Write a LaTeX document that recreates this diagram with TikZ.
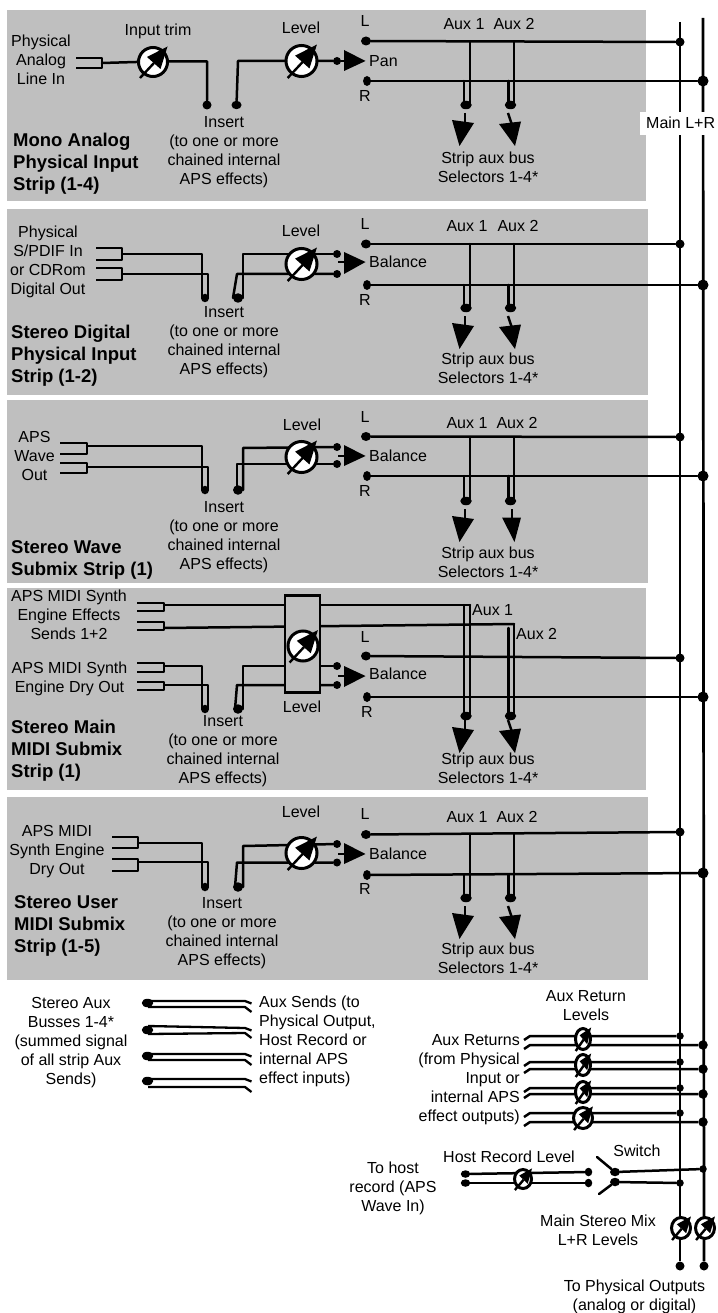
\documentclass[tikz,border=0pt]{standalone}
\usepackage{fontspec}
\setmainfont{Liberation Sans}
\usetikzlibrary{shapes.geometric}
\definecolor{panel}{HTML}{BFBFBF}
\tikzset{
  wire/.style={line width=2.5pt,line cap=round,line join=round,black},
  busline/.style={line width=2.7pt,black},
  sdot/.style={ellipse,fill=black,inner sep=0pt,minimum width=9pt,minimum height=9pt},
  widedot/.style={ellipse,fill=black,inner sep=0pt,minimum width=11.5pt,minimum height=8.5pt},
  ldot/.style={circle,fill=black,inner sep=0pt,minimum size=9pt},
  rdot/.style={circle,fill=black,inner sep=0pt,minimum size=11pt},
  knobshape/.style={ellipse,draw=black,fill=white,line width=3pt,inner sep=0pt},
  lab/.style={inner sep=0pt,font=\fontsize{16}{19}\selectfont},
  blab/.style={inner sep=0pt,align=left,anchor=north west,font=\fontsize{18.5}{21.7}\selectfont\bfseries},
  panelbox/.style={fill=panel,draw=none,inner sep=0pt,anchor=north west},
}
\newcount\tn
\newcommand\tb[5]{\global\advance\tn by 1 \node[lab,anchor=#1,align=#4] (t\the\tn) at (#2,#3-7.8) {\strut #5};}
\newcommand\tbb[3]{\global\advance\tn by 1 \node[blab] (t\the\tn) at (#1,#2-8.7) {\strut #3};}
% panel: name x1 y1 x2 y2
\newcommand\panelrect[5]{\node[panelbox,minimum width=#4-#2,minimum height=#5-#3] (#1) at (#2,#3) {};}
% knob: name x y rx ry
\newcommand\knob[5]{%
  \node[knobshape,minimum width=2*#4-3,minimum height=2*#5-3] (#1) at (#2,#3) {};
  \begin{scope}[shift={(#2,#3)},xscale=#4/16,yscale=#5/16]
    \coordinate (#1-tail) at (-13,16); \coordinate (#1-mid) at (1,1);
    \draw[line width=2.4pt,black] (#1-tail) -- (#1-mid);
    \fill[black] (14.5,-15.5) -- (-6,-5) -- (7.5,7) -- cycle;
  \end{scope}}
% jack: name x1 x2 y1 y2 ymid
\newcommand\jack[6]{%
  \coordinate (#1-a) at (#2,#4); \coordinate (#1-b) at (#3,#4);
  \coordinate (#1-c) at (#2,#5); \coordinate (#1-d) at (#3,#5);
  \coordinate (#1-m) at (#3,#6);
  \draw[wire,line cap=butt] (#1-a) -- (#1-b) -- (#1-d) -- (#1-c);}
% outputs: p Ly LyEnd Ry RyEnd
\newcommand\outs[5]{%
  \node[sdot,minimum width=10pt] (#1-L) at (366,#2) {};
  \node[sdot,minimum width=8pt,minimum height=10pt] (#1-R) at (367,#4) {};
  \node[ldot] (#1-LB) at (680,#3) {};
  \node[rdot] (#1-RB) at (703,#5) {};
  \draw[wire] (#1-L) -- (#1-LB);
  \draw[wire] (#1-R) -- (#1-RB);}
% aux verticals: p D a1 b1 a2 b2
\newcommand\auxs[6]{%
  \node[widedot] (#1-d1) at (466,#2) {};
  \node[widedot] (#1-d2) at (510.5,#2) {};
  \coordinate (#1-a1) at (470,#3); \coordinate (#1-a1e) at (470,#2);
  \coordinate (#1-b1) at (464,#4); \coordinate (#1-b1e) at (464,#2);
  \coordinate (#1-a2) at (514,#5); \coordinate (#1-a2e) at (514,#2);
  \coordinate (#1-b2) at (508.5,#6); \coordinate (#1-b2e) at (508.5,#2);
  \draw[wire] (#1-a1) -- (#1-a1e); \draw[wire] (#1-b1) -- (#1-b1e);
  \draw[wire] (#1-a2) -- (#1-a2e); \draw[wire] (#1-b2) -- (#1-b2e);}
\newcommand\arrowA[2]{%
  \coordinate (#1-s1) at (465,#2+8); \coordinate (#1-s1e) at (465,#2+20);
  \draw[wire,line cap=butt] (#1-s1) -- (#1-s1e);
  \fill[black] (452,#2+15) -- (474,#2+18) -- (459.5,#2+41) -- cycle;}
\newcommand\arrowB[2]{%
  \coordinate (#1-s2) at (508,#2+8); \coordinate (#1-s2e) at (512,#2+20);
  \draw[wire,line cap=butt] (#1-s2) -- (#1-s2e);
  \fill[black] (499,#2+19) -- (521,#2+16.5) -- (515,#2+41) -- cycle;}
\newcommand\arrowBs[2]{%
  \coordinate (#1-s2) at (512,#2+8); \coordinate (#1-s2e) at (512,#2+20);
  \draw[wire,line cap=butt] (#1-s2) -- (#1-s2e);
  \fill[black] (502,#2+16.5) -- (521,#2+16.5) -- (514.5,#2+41) -- cycle;}
% stereo insert loop: p LA LB RA RAl RB D sx  (sources p-j1-m,p-j2-m)
\newcommand\stereo[8]{%
  \node[sdot,minimum width=8pt,minimum height=8.5pt] (#1-iL) at (205,#7) {};
  \node[widedot,minimum width=10pt,minimum height=9.5pt] (#1-iR) at (238,#7) {};
  \coordinate (#1-la) at (202,#7); \coordinate (#1-lb) at (208,#7);
  \coordinate (#1-ra) at (243,#7); \coordinate (#1-rc) at (243,#5);
  \coordinate (#1-rb) at (237,#6); \coordinate (#1-rd) at (#8,#7);
  \node[sdot,minimum size=8pt] (#1-da) at (337,#4) {};
  \node[sdot,minimum size=8pt] (#1-db) at (337,#6) {};
  \draw[wire] (#1-j1-m) -| (#1-la);
  \draw[wire] (#1-j2-m) -| (#1-lb);
  \draw[wire] (#1-da) -- (#1-rc) -- (#1-ra);
  \draw[wire] (#1-db) -- (#1-rb) -- (#1-rd);}
% balance triangle: p ytop ybot ymid
\newcommand\tri[4]{%
  \coordinate (#1-t0) at (338,#4); \coordinate (#1-t1) at (345,#4);
  \draw[wire,line cap=butt] (#1-t0) -- (#1-t1);
  \fill[black] (344,#2) -- (344,#3) -- (365.5,#4) -- cycle;}
% aux bus row: n Y t1 t2 b1 b2
\newcommand\busrow[6]{%
  \node[widedot,minimum height=8.5pt] (r#1) at (147.5,#2) {};
  \coordinate (r#1-t0) at (148,#3); \coordinate (r#1-t1) at (245,#4); \coordinate (r#1-t2) at (251.5,#4+2.5);
  \coordinate (r#1-b0) at (148,#5); \coordinate (r#1-b1) at (245,#6); \coordinate (r#1-b2) at (251.5,#6+5);
  \draw[wire,line width=2.3pt,line cap=butt] (r#1-t0) -- (r#1-t1) -- (r#1-t2);
  \draw[wire,line width=2.3pt,line cap=butt] (r#1-b0) -- (r#1-b1) -- (r#1-b2);}
% return pair: n top bot knoby rx
\newcommand\retn[5]{%
  \coordinate (q#1-s) at (524,#2+4); \coordinate (q#1-a) at (530,#2);
  \coordinate (q#1-t) at (524,#3+4); \coordinate (q#1-b) at (530,#3);
  \node[ldot,minimum size=7.5pt] (q#1-L) at (680,#2) {};
  \node[rdot,minimum size=9.5pt] (q#1-R) at (703,#3) {};
  \draw[wire,line cap=butt] (q#1-s) -- (q#1-a) -- (q#1-L);
  \draw[wire,line cap=butt] (q#1-t) -- (q#1-b) -- (q#1-R);
  \knob{q#1-k}{583}{#4}{#5}{12}}
\begin{document}
\begin{tikzpicture}[x=1pt,y=-1pt]
\useasboundingbox (0,0) rectangle (717,1313);
\fill[white] (0,0) rectangle (717,1313);
% panels
\panelrect{P1}{7}{10}{646}{200.5}
\panelrect{P2}{7}{209}{648}{395}
\panelrect{P3}{7}{400}{648}{582.5}
\panelrect{P4}{7}{588}{646}{789.5}
\panelrect{P5}{7}{797}{648}{979.5}
% main buses
\coordinate (busLtop) at (680,22); \coordinate (busRtop) at (703,18);
\node[ldot] (busLend) at (680,1266) {};
\node[ldot] (busRend) at (704,1266) {};
\draw[busline] (busLtop) -- (busLend);
\draw[busline] (busRtop) -- (busRend);
\node[fill=white,inner sep=0pt,minimum width=77pt,minimum height=23pt,anchor=north west] (mainbox) at (640,112) {};
\tb{north west}{646}{123}{left}{Main L+R}

% ---------- Strip 1
\tb{north}{41}{41}{center}{Physical\\Analog\\Line In}
\tb{north}{158}{30}{center}{Input trim}
\tb{north}{301}{28}{center}{Level}
\tb{north}{365}{21}{center}{L}
\tb{north}{365}{96}{center}{R}
\tb{north west}{369}{61}{left}{Pan}
\tb{north}{224}{122}{center}{Insert\\(to one or more\\chained internal\\APS effects)}
\tbb{13}{140}{Mono Analog\\Physical Input\\Strip (1-4)}
\tb{north}{464}{24}{center}{Aux 1}
\tb{north}{514}{24}{center}{Aux 2}
\tb{north}{488}{158}{center}{Strip aux bus\\Selectors 1-4*}
\jack{a-j}{76}{102}{58}{68}{63}
\node[sdot] (a-iL) at (207,105) {};
\node[widedot,minimum width=10pt] (a-iR) at (236.5,105) {};
\node[sdot,minimum size=8pt] (a-dp) at (337,61) {};
\coordinate (a-c1) at (238,61);
\coordinate (a-t) at (345,61);
\draw[wire] (a-j-m) -- (153,61.5) -| (a-iL);
\draw[wire] (a-iR) -- (a-c1) -- (a-dp);
\draw[wire] (a-dp) -- (a-t);
\knob{a-k1}{153}{62}{16}{16}
\knob{a-k2}{301.5}{61}{17}{17}
\fill[black] (344,50) -- (344,71) -- (365.5,61) -- cycle;
\outs{a}{41}{42}{81}{81}
\auxs{a}{105}{42}{81}{42}{81}
\arrowA{a}{105}
\arrowB{a}{105}

% ---------- Strip 2
\tb{north}{48}{232}{center}{Physical\\S/PDIF In\\or CDRom\\Digital Out}
\tb{north}{301}{231}{center}{Level}
\tb{north}{365}{224}{center}{L}
\tb{north}{365}{300}{center}{R}
\tb{north west}{369}{262}{left}{Balance}
\tb{north}{224}{312}{center}{Insert\\(to one or more\\chained internal\\APS effects)}
\tbb{11}{332}{Stereo Digital\\Physical Input\\Strip (1-2)}
\tb{north}{467}{226}{center}{Aux 1}
\tb{north}{518}{226}{center}{Aux 2}
\tb{north}{488}{359}{center}{Strip aux bus\\Selectors 1-4*}
\jack{b-j1}{96}{122}{248}{260}{254}
\jack{b-j2}{96}{122}{268}{280}{274}
\stereo{b}{254}{274}{254}{254}{274}{298}{233}
\knob{b-k}{301.5}{264}{17}{17}
\tri{b}{252}{274}{262}
\outs{b}{244}{244}{285}{285}
\auxs{b}{308}{244}{285}{244}{285}
\arrowA{b}{308}
\arrowB{b}{308}

% ---------- Strip 3
\tb{north}{34.5}{437}{center}{APS\\Wave\\Out}
\tb{north}{302}{425}{center}{Level}
\tb{north}{365}{417}{center}{L}
\tb{north}{365}{491}{center}{R}
\tb{north west}{369}{456}{left}{Balance}
\tb{north}{224}{507}{center}{Insert\\(to one or more\\chained internal\\APS effects)}
\tbb{11}{547}{Stereo Wave\\Submix Strip (1)}
\tb{north}{467}{423}{center}{Aux 1}
\tb{north}{517}{423}{center}{Aux 2}
\tb{north}{488}{553}{center}{Strip aux bus\\Selectors 1-4*}
\jack{c-j1}{60}{87}{443}{454}{446}
\jack{c-j2}{60}{87}{463}{473}{467}
\stereo{c}{446}{467}{447}{448}{464}{490}{237}
\knob{c-k}{301.5}{457}{17}{17}
\tri{c}{445}{466}{456}
\outs{c}{436.5}{437}{476}{476}
\auxs{c}{501}{437}{476}{437}{476}
\arrowA{c}{501}
\arrowBs{c}{501}

% ---------- Strip 4
\tb{north}{69}{596}{center}{APS MIDI Synth\\Engine Effects\\Sends 1+2}
\tb{north}{69.5}{668}{center}{APS MIDI Synth\\Engine Dry Out}
\tb{north}{302}{707}{center}{Level}
\tb{north}{365}{637}{center}{L}
\tb{north}{367}{712}{center}{R}
\tb{north west}{369}{674}{left}{Balance}
\tb{north}{223}{721}{center}{Insert\\(to one or more\\chained internal\\APS effects)}
\tbb{11}{727}{Stereo Main\\MIDI Submix\\Strip (1)}
\tb{north west}{472}{610}{left}{Aux 1}
\tb{north west}{516}{634}{left}{Aux 2}
\tb{north}{488}{759}{center}{Strip aux bus\\Selectors 1-4*}
\jack{d-e1}{137}{164}{603}{611}{605}
\jack{d-e2}{137}{164}{622}{630}{628}
\jack{d-j1}{137}{164}{663}{672}{666}
\jack{d-j2}{137}{164}{682}{690}{685}
\stereo{d}{666}{685}{666}{666}{685}{709}{235}
\outs{d}{656}{658}{697}{697}
\auxs{d}{716}{605}{605}{624}{628}
\draw[wire] (d-e1-m) -- (d-a1);
\draw[wire] (d-e2-m) -- (d-a2);
\node[draw=black,fill=panel,line width=2.5pt,minimum width=35pt,minimum height=97pt,inner sep=0pt] (d-box) at (302.5,644) {};
\knob{d-k}{303}{646}{16.5}{16.5}
\tri{d}{666}{687}{676}
\arrowA{d}{712}
\arrowB{d}{712}

% ---------- Strip 5
\tb{north}{57}{831}{center}{APS MIDI\\Synth Engine\\Dry Out}
\tb{north}{301}{812}{center}{Level}
\tb{north}{365}{814}{center}{L}
\tb{north}{365}{889}{center}{R}
\tb{north west}{369}{854}{left}{Balance}
\tb{north}{222}{903}{center}{Insert\\(to one or more\\chained internal\\APS effects)}
\tbb{14}{902}{Stereo User\\MIDI Submix\\Strip (1-5)}
\tb{north}{467}{817}{center}{Aux 1}
\tb{north}{517}{817}{center}{Aux 2}
\tb{north}{488}{949}{center}{Strip aux bus\\Selectors 1-4*}
\jack{e-j1}{112}{138}{837}{848}{843}
\jack{e-j2}{112}{138}{859}{871}{862}
\stereo{e}{843}{862}{844}{846}{862.5}{887}{235}
\knob{e-k}{301.5}{853}{17}{17}
\tri{e}{843}{864}{854}
\outs{e}{834.5}{832}{875}{873}
\auxs{e}{898}{834}{874.5}{834}{874.5}
\arrowA{e}{898}
\arrowB{e}{898}

% ---------- Aux busses
\tb{north}{71}{1003}{center}{Stereo Aux\\Busses 1-4*\\(summed signal\\of all strip Aux\\Sends)}
\tb{north west}{259}{1002}{left}{Aux Sends (to\\Physical Output,\\Host Record or\\internal APS\\effect inputs)}
\busrow{1}{1003}{1001}{1001}{1007}{1007}
\busrow{2}{1030}{1026}{1028}{1034}{1033}
\busrow{3}{1056}{1054}{1054}{1060}{1060}
\busrow{4}{1081}{1079}{1079}{1087}{1087}

% ---------- Aux returns
\tb{north}{586}{996}{center}{Aux Return\\Levels}
\tb{north east}{520}{1040}{right}{Aux Returns\\(from Physical\\Input or\\internal APS\\effect outputs)}
\retn{1}{1036}{1045}{1039}{9}
\retn{2}{1062}{1069}{1065}{9}
\retn{3}{1088}{1094}{1092}{9}
\retn{4}{1113}{1122}{1118}{11}

% ---------- Host record / switch
\tb{north}{509}{1157}{center}{Host Record Level}
\tb{north}{637}{1151}{center}{Switch}
\tb{north}{393}{1168}{center}{To host\\record (APS\\Wave In)}
\node[sdot,minimum width=9.5pt,minimum height=7.5pt] (h-l1) at (465.5,1174) {};
\node[sdot,minimum width=9.5pt,minimum height=7.5pt] (h-l2) at (465.5,1183) {};
\node[sdot,minimum width=7.5pt,minimum height=8.5pt] (h-r1) at (588.5,1172) {};
\node[sdot,minimum width=7.5pt,minimum height=8.5pt] (h-r2) at (588.5,1183) {};
\draw[wire] (h-l1) -- (h-r1);
\draw[wire] (h-l2) -- (h-r2);
\knob{h-k}{523}{1179}{10}{11}
\node[widedot,minimum width=10pt] (s-1) at (615,1172) {};
\node[widedot,minimum width=10pt] (s-2) at (615,1182) {};
\coordinate (s-1a) at (597,1157); \coordinate (s-2a) at (599,1194);
\node[ldot,minimum size=7.5pt] (s-1b) at (703,1169) {};
\node[ldot,minimum size=7.5pt] (s-2b) at (680,1183) {};
\draw[wire] (s-1) -- (s-1a);
\draw[wire] (s-2) -- (s-2a);
\draw[wire] (s-1) -- (s-1b);
\draw[wire] (s-2) -- (s-2b);

% ---------- Main levels
\knob{m-l}{681}{1228}{11}{12}
\knob{m-r}{705}{1228}{11}{12}
\tb{north}{598}{1221}{center}{Main Stereo Mix\\L+R Levels}
\tb{north}{634.5}{1286}{center}{To Physical Outputs\\(analog or digital)}
\end{tikzpicture}
\end{document}
